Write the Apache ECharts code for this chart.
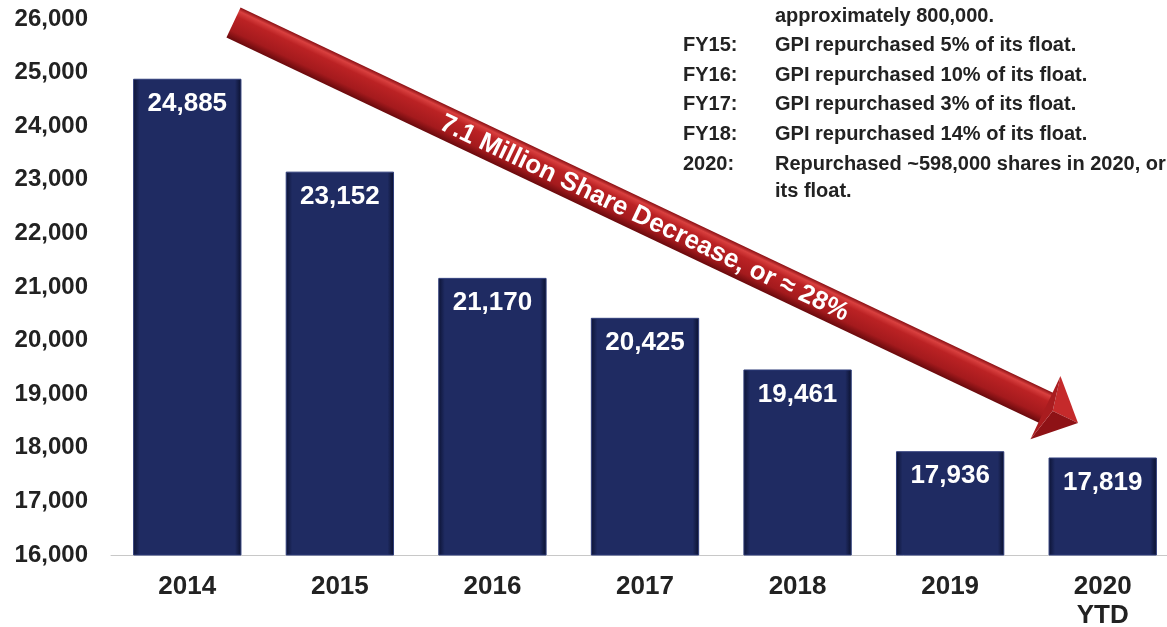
<!doctype html>
<html>
<head>
    <meta charset="utf-8">
    <title>Share count</title>
    <script src="https://cdn.jsdelivr.net/npm/echarts@6/dist/echarts.min.js"></script>
    <style>
        html, body { margin: 0; padding: 0; background: #fff; }
        #chart { width: 1167px; height: 627px; }
    </style>
</head>
<body>
<div id="chart"></div>
<script type="text/javascript">
    // chart data
    var years = ['2014', '2015', '2016', '2017', '2018', '2019', '2020\nYTD'];
    var shares = [24885, 23152, 21170, 20425, 19461, 17936, 17819];
    var yMin = 16000, yMax = 26000, yStep = 1000;

    // notes on the top right
    var noteKeys = ['', 'FY15:', 'FY16:', 'FY17:', 'FY18:', '2020:', ''];
    var noteTexts = [
        'approximately 800,000.',
        'GPI repurchased 5% of its float.',
        'GPI repurchased 10% of its float.',
        'GPI repurchased 3% of its float.',
        'GPI repurchased 14% of its float.',
        'Repurchased ~598,000 shares in 2020, or',
        'its float.'
    ];
    var arrowText = '7.1 Million Share Decrease, or \u2248 28%';

    var font = '"Liberation Sans", Arial, sans-serif';

    function fmt(v) {
        return v.toString().replace(/\B(?=(\d{3})+(?!\d))/g, ',');
    }

    // notes as text elements
    var notes = [];
    var ny = 6;
    for (var i = 0; i < noteTexts.length; i++) {
        if (noteKeys[i]) {
            notes.push({
                type: 'text', left: 683, top: ny,
                style: { text: noteKeys[i], fill: '#222', font: 'bold 20px ' + font }
            });
        }
        notes.push({
            type: 'text', left: 775, top: ny,
            style: { text: noteTexts[i], fill: '#222', font: 'bold 20px ' + font }
        });
        ny += (i === noteTexts.length - 2) ? 27 : 29.6;
    }

    // big red arrow, drawn along its own axis then rotated
    var ax0 = 233.5, ay0 = 22.5, ax1 = 1078, ay1 = 423;
    var len = Math.sqrt((ax1 - ax0) * (ax1 - ax0) + (ay1 - ay0) * (ay1 - ay0));
    var ang = Math.atan2(ay1 - ay0, ax1 - ax0);
    var headLen = 36, headHalf = 35, shaftHalf = 16.5;

    var arrow = {
        type: 'group',
        x: ax0, y: ay0,
        rotation: -ang,
        z: 20,
        children: [
            {
                type: 'rect',
                shape: { x: 0, y: -shaftHalf, width: len - headLen + 1, height: shaftHalf * 2 },
                style: {
                    fill: new echarts.graphic.LinearGradient(0, 0, 0, 1, [
                        { offset: 0, color: '#8a1014' },
                        { offset: 0.12, color: '#d9403f' },
                        { offset: 0.3, color: '#bb2224' },
                        { offset: 0.75, color: '#a41a1d' },
                        { offset: 1, color: '#6a0a0d' }
                    ])
                }
            },
            {
                type: 'polygon',
                shape: { points: [[len - headLen, -headHalf], [len, 0], [len - headLen + 8, 0]] },
                style: { fill: '#c52a2b' }
            },
            {
                type: 'polygon',
                shape: { points: [[len - headLen + 8, 0], [len, 0], [len - headLen, headHalf]] },
                style: { fill: '#8e1216' }
            },
            {
                type: 'polygon',
                shape: { points: [[len - headLen, -headHalf], [len - headLen + 8, 0], [len - headLen, headHalf]] },
                style: { fill: '#a91c1f' }
            },
            {
                type: 'text',
                x: 455, y: 1,
                style: {
                    text: arrowText, fill: '#fff',
                    font: 'bold 26px ' + font,
                    align: 'center', verticalAlign: 'middle'
                }
            }
        ]
    };

    var myChart = echarts.init(document.getElementById('chart'));
    var option = {
        backgroundColor: '#fff',
        animation: false,
        grid: { left: 111, width: 1068, top: 19, bottom: 72, containLabel: false, outerBoundsMode: 'none' },
        xAxis: {
            type: 'category',
            data: years,
            axisLine: { lineStyle: { color: '#c8c8c8', width: 1 } },
            axisTick: { show: false },
            axisLabel: {
                color: '#222', fontSize: 26, fontWeight: 'bold', fontFamily: font,
                margin: 17, lineHeight: 29
            }
        },
        yAxis: {
            type: 'value',
            min: yMin, max: yMax, interval: yStep,
            axisLine: { show: false },
            axisTick: { show: false },
            splitLine: { show: false },
            axisLabel: {
                color: '#222', fontSize: 24, fontWeight: 'bold', fontFamily: font,
                margin: 23, formatter: fmt
            }
        },
        series: [{
            type: 'bar',
            data: shares,
            barCategoryGap: '29%',
            itemStyle: {
                color: new echarts.graphic.LinearGradient(0, 0, 1, 0, [
                    { offset: 0, color: '#0c1334' },
                    { offset: 0.06, color: '#1f2b62' },
                    { offset: 0.94, color: '#1f2b62' },
                    { offset: 1, color: '#0a102c' }
                ]),
                borderColor: '#2f3d7a',
                borderWidth: 1
            },
            label: {
                show: true,
                position: 'insideTop',
                distance: 12,
                color: '#fff',
                fontSize: 26,
                fontWeight: 'bold',
                fontFamily: font,
                formatter: function (p) { return fmt(p.value); }
            }
        }],
        graphic: notes.concat([arrow])
    };
    myChart.setOption(option);
</script>
</body>
</html>
